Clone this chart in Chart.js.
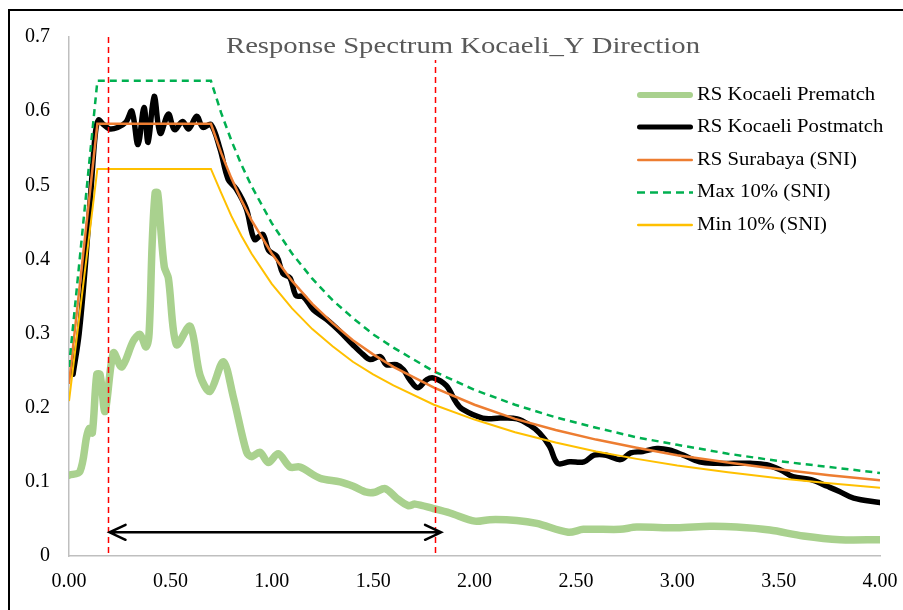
<!DOCTYPE html>
<html>
<head>
<meta charset="utf-8">
<title>Response Spectrum Kocaeli_Y Direction</title>
<script src="https://cdn.jsdelivr.net/npm/chart.js@4.4.1/dist/chart.umd.min.js"></script>
<style>
    html, body { margin: 0; padding: 0; background: #fff; }
    canvas { display: block; }
</style>
</head>
<body>
<canvas id="rsChart" width="903" height="610"></canvas>
<script>
// Periods (s) and spectral accelerations (g)
const prematchPeriods = [0, 0.054, 0.087, 0.10, 0.115, 0.137, 0.153, 0.178, 0.219, 0.26, 0.317, 0.35, 0.38,
    0.395, 0.41, 0.425, 0.437, 0.45, 0.47, 0.49, 0.53, 0.597, 0.646, 0.695, 0.761, 0.81, 0.876, 0.901, 0.942,
    0.983, 1.032, 1.09, 1.139, 1.238, 1.337, 1.402, 1.468, 1.509, 1.559, 1.616, 1.673, 1.707, 1.797, 1.879, 2.002,
    2.076, 2.208, 2.307, 2.463, 2.537, 2.718, 2.80, 2.997, 3.161, 3.293, 3.457, 3.622, 3.803, 4.0];
const prematchValues = [0.109, 0.114, 0.161, 0.172, 0.166, 0.245, 0.245, 0.195, 0.274, 0.255, 0.290, 0.299, 0.282,
    0.300, 0.420, 0.490, 0.490, 0.450, 0.390, 0.375, 0.285, 0.310, 0.244, 0.222, 0.262, 0.215, 0.140, 0.134, 0.140,
    0.126, 0.138, 0.120, 0.120, 0.105, 0.100, 0.094, 0.086, 0.086, 0.091, 0.078, 0.068, 0.070, 0.064, 0.058, 0.047,
    0.049, 0.048, 0.044, 0.032, 0.036, 0.036, 0.039, 0.038, 0.040, 0.039, 0.035, 0.027, 0.022, 0.022];

const postmatchPeriods = [0.02, 0.05, 0.08, 0.11, 0.13, 0.145, 0.17, 0.20, 0.24, 0.28, 0.31, 0.34, 0.37, 0.39,
    0.42, 0.45, 0.49, 0.52, 0.56, 0.59, 0.63, 0.66, 0.70, 0.745, 0.785, 0.825, 0.875, 0.915, 0.955, 0.985, 1.025,
    1.055, 1.09, 1.12, 1.155, 1.205, 1.27, 1.335, 1.40, 1.45, 1.485, 1.535, 1.565, 1.615, 1.65, 1.68, 1.72, 1.765,
    1.80, 1.86, 1.91, 1.94, 2.04, 2.13, 2.21, 2.27, 2.32, 2.37, 2.41, 2.47, 2.54, 2.59, 2.65, 2.72, 2.77, 2.83,
    2.90, 2.96, 3.03, 3.11, 3.20, 3.28, 3.36, 3.44, 3.51, 3.57, 3.66, 3.74, 3.80, 3.87, 4.00];
const postmatchValues = [0.245, 0.300, 0.390, 0.500, 0.570, 0.588, 0.582, 0.576, 0.578, 0.585, 0.600, 0.555, 0.605,
    0.558, 0.620, 0.570, 0.596, 0.575, 0.586, 0.576, 0.593, 0.578, 0.582, 0.549, 0.508, 0.495, 0.468, 0.427, 0.434,
    0.412, 0.404, 0.381, 0.375, 0.351, 0.350, 0.332, 0.319, 0.303, 0.285, 0.272, 0.265, 0.269, 0.258, 0.258, 0.251,
    0.238, 0.227, 0.238, 0.240, 0.230, 0.207, 0.198, 0.186, 0.186, 0.185, 0.177, 0.166, 0.148, 0.125, 0.127, 0.127,
    0.136, 0.136, 0.130, 0.139, 0.141, 0.145, 0.143, 0.136, 0.127, 0.125, 0.125, 0.125, 0.123, 0.116, 0.107, 0.103,
    0.094, 0.087, 0.078, 0.072];

const sniPeriods = [0, 0.14, 0.70, 0.75, 0.80, 0.85, 0.90, 1.0, 1.1, 1.2, 1.3, 1.4, 1.5, 1.6, 1.8, 2.0, 2.2, 2.4,
    2.6, 2.8, 3.0, 3.25, 3.5, 3.75, 4.0];
const surabayaValues = [0.232, 0.583, 0.583, 0.544, 0.510, 0.480, 0.453, 0.408, 0.371, 0.340, 0.314, 0.291, 0.272,
    0.255, 0.227, 0.204, 0.185, 0.170, 0.157, 0.146, 0.136, 0.126, 0.117, 0.109, 0.102];
const maxValues = [0.255, 0.641, 0.641, 0.598, 0.561, 0.528, 0.499, 0.449, 0.408, 0.374, 0.345, 0.321, 0.299,
    0.281, 0.249, 0.224, 0.204, 0.187, 0.173, 0.160, 0.150, 0.138, 0.128, 0.120, 0.112];
const minValues = [0.209, 0.522, 0.522, 0.490, 0.459, 0.432, 0.408, 0.367, 0.334, 0.306, 0.283, 0.262, 0.245,
    0.230, 0.204, 0.184, 0.167, 0.153, 0.141, 0.131, 0.122, 0.113, 0.105, 0.098, 0.092];

const seriesLabels = ['RS Kocaeli Prematch', 'RS Kocaeli Postmatch', 'RS Surabaya (SNI)', 'Max 10% (SNI)',
    'Min 10% (SNI)'];
const yTicks = [0, 0.1, 0.2, 0.3, 0.4, 0.5, 0.6, 0.7];
const xTicks = [0, 0.5, 1, 1.5, 2, 2.5, 3, 3.5, 4];

// period range marked with the red dashed lines and the arrow
const rangeMarkers = [0.19, 1.805];
const arrowSpan = [0.2, 1.835];
const arrowLevel = 0.032;

const chartTitle = 'Response Spectrum Kocaeli_Y Direction';
const SERIF = '"Liberation Serif", "Times New Roman", serif';

function toPoints(xs, ys) {
    return xs.map((x, i) => ({ x: x, y: ys[i] }));
}

// white page + the frame edges visible at the top and left
const framePlugin = {
    id: 'frame',
    beforeDraw(chart) {
        const ctx = chart.ctx;
        ctx.save();
        ctx.fillStyle = '#fff';
        ctx.fillRect(0, 0, chart.width, chart.height);
        ctx.strokeStyle = '#000';
        ctx.lineWidth = 2;
        ctx.beginPath();
        ctx.moveTo(9, chart.height);
        ctx.lineTo(9, 10);
        ctx.lineTo(chart.width, 10);
        ctx.stroke();
        ctx.restore();
    }
};

const markerPlugin = {
    id: 'markers',
    afterDatasetsDraw(chart) {
        const ctx = chart.ctx;
        const xs = chart.scales.x;
        const ys = chart.scales.y;
        const area = chart.chartArea;
        ctx.save();
        ctx.strokeStyle = '#FF0000';
        ctx.lineWidth = 1.5;
        ctx.setLineDash([6, 4]);
        rangeMarkers.forEach(t => {
            const px = Math.round(xs.getPixelForValue(t)) + 0.5;
            ctx.beginPath();
            ctx.moveTo(px, area.top);
            ctx.lineTo(px, area.bottom);
            ctx.stroke();
        });
        ctx.setLineDash([]);

        // double arrow
        const x1 = xs.getPixelForValue(arrowSpan[0]);
        const x2 = xs.getPixelForValue(arrowSpan[1]);
        const y = ys.getPixelForValue(arrowLevel);
        ctx.strokeStyle = '#000';
        ctx.lineWidth = 2.5;
        ctx.lineCap = 'round';
        ctx.beginPath();
        ctx.moveTo(x1, y);
        ctx.lineTo(x2, y);
        ctx.moveTo(x1 + 16, y - 7.5);
        ctx.lineTo(x1, y);
        ctx.lineTo(x1 + 16, y + 7.5);
        ctx.moveTo(x2 - 16, y - 7.5);
        ctx.lineTo(x2, y);
        ctx.lineTo(x2 - 16, y + 7.5);
        ctx.stroke();
        ctx.restore();
    }
};

// title and legend sit inside the plot area, so they are drawn by hand
const overlayPlugin = {
    id: 'overlay',
    afterDraw(chart) {
        const ctx = chart.ctx;
        ctx.save();

        // title with a white box behind it (hides the red line there)
        ctx.font = '24px ' + SERIF;
        const tw = ctx.measureText(chartTitle).width;
        const sx = 474 / tw;
        ctx.fillStyle = '#fff';
        ctx.fillRect(463 - 474 / 2 - 6, 25, 474 + 12, 35);
        ctx.fillStyle = '#595959';
        ctx.textBaseline = 'alphabetic';
        ctx.textAlign = 'left';
        ctx.save();
        ctx.translate(463 - 474 / 2, 53);
        ctx.scale(sx, 1);
        ctx.fillText(chartTitle, 0, 0);
        ctx.restore();

        // legend
        const rowY = [95, 127, 160, 192.5, 225];
        chart.data.datasets.forEach((ds, i) => {
            const y = rowY[i];
            ctx.strokeStyle = ds.borderColor;
            ctx.lineWidth = ds.legendWidth;
            ctx.lineCap = ds.borderDash ? 'butt' : 'round';
            ctx.setLineDash(ds.borderDash ? [8, 5] : []);
            ctx.beginPath();
            const inset = ds.borderDash ? 0 : ds.legendWidth / 2;
            ctx.moveTo(637 + inset, y);
            ctx.lineTo(693 - inset, y);
            ctx.stroke();
            ctx.setLineDash([]);

            ctx.font = '18px ' + SERIF;
            ctx.fillStyle = '#000';
            ctx.textBaseline = 'middle';
            ctx.save();
            ctx.translate(697, y);
            ctx.scale(1.15, 1);
            ctx.fillText(ds.label, 0, 0);
            ctx.restore();
        });
        ctx.restore();
    }
};

const ctx = document.getElementById('rsChart').getContext('2d');
const chart = new Chart(ctx, {
    type: 'line',
    data: {
        datasets: [
            {
                label: seriesLabels[0],
                data: toPoints(prematchPeriods, prematchValues),
                borderColor: '#A9D18E',
                borderWidth: 7.5,
                legendWidth: 6,
                tension: 0.3,
                borderCapStyle: 'round',
                borderJoinStyle: 'round',
                order: 5
            },
            {
                label: seriesLabels[1],
                data: toPoints(postmatchPeriods, postmatchValues),
                borderColor: '#000000',
                borderWidth: 5.5,
                legendWidth: 5,
                tension: 0.35,
                borderCapStyle: 'round',
                borderJoinStyle: 'round',
                order: 4
            },
            {
                label: seriesLabels[2],
                data: toPoints(sniPeriods, surabayaValues),
                borderColor: '#ED7D31',
                borderWidth: 2.5,
                legendWidth: 2.5,
                tension: 0,
                order: 3
            },
            {
                label: seriesLabels[3],
                data: toPoints(sniPeriods, maxValues),
                borderColor: '#00B050',
                borderWidth: 2.5,
                legendWidth: 2.5,
                borderDash: [7, 5],
                tension: 0,
                order: 2
            },
            {
                label: seriesLabels[4],
                data: toPoints(sniPeriods, minValues),
                borderColor: '#FFC000',
                borderWidth: 2,
                legendWidth: 2.5,
                tension: 0,
                order: 1
            }
        ]
    },
    options: {
        responsive: false,
        animation: false,
        devicePixelRatio: 1,
        elements: { point: { radius: 0, hoverRadius: 0 } },
        layout: { padding: { left: 0, top: 37, right: 23, bottom: 0 } },
        plugins: {
            legend: { display: false },
            title: { display: false },
            tooltip: { enabled: false }
        },
        scales: {
            x: {
                type: 'linear',
                min: 0,
                max: 4,
                afterFit: s => { s.height = 54; s.paddingRight = 0; s.paddingLeft = 0; },
                afterBuildTicks: s => { s.ticks = xTicks.map(v => ({ value: v })); },
                grid: { display: false, drawTicks: false },
                border: { display: true, color: '#BFBFBF', width: 1.5 },
                ticks: {
                    padding: 14,
                    color: '#000',
                    font: { family: SERIF, size: 20 },
                    maxRotation: 0,
                    callback: v => v.toFixed(2)
                }
            },
            y: {
                type: 'linear',
                min: 0,
                max: 0.7,
                afterFit: s => { s.width = 69; s.paddingTop = 0; s.paddingBottom = 0; },
                afterBuildTicks: s => { s.ticks = yTicks.map(v => ({ value: v })); },
                grid: { display: false, drawTicks: false },
                border: { display: true, color: '#BFBFBF', width: 1.5 },
                ticks: {
                    padding: 19,
                    color: '#000',
                    font: { family: SERIF, size: 20 },
                    callback: v => v === 0 ? '0' : v.toFixed(1)
                }
            }
        }
    },
    plugins: [framePlugin, markerPlugin, overlayPlugin]
});
</script>
</body>
</html>
